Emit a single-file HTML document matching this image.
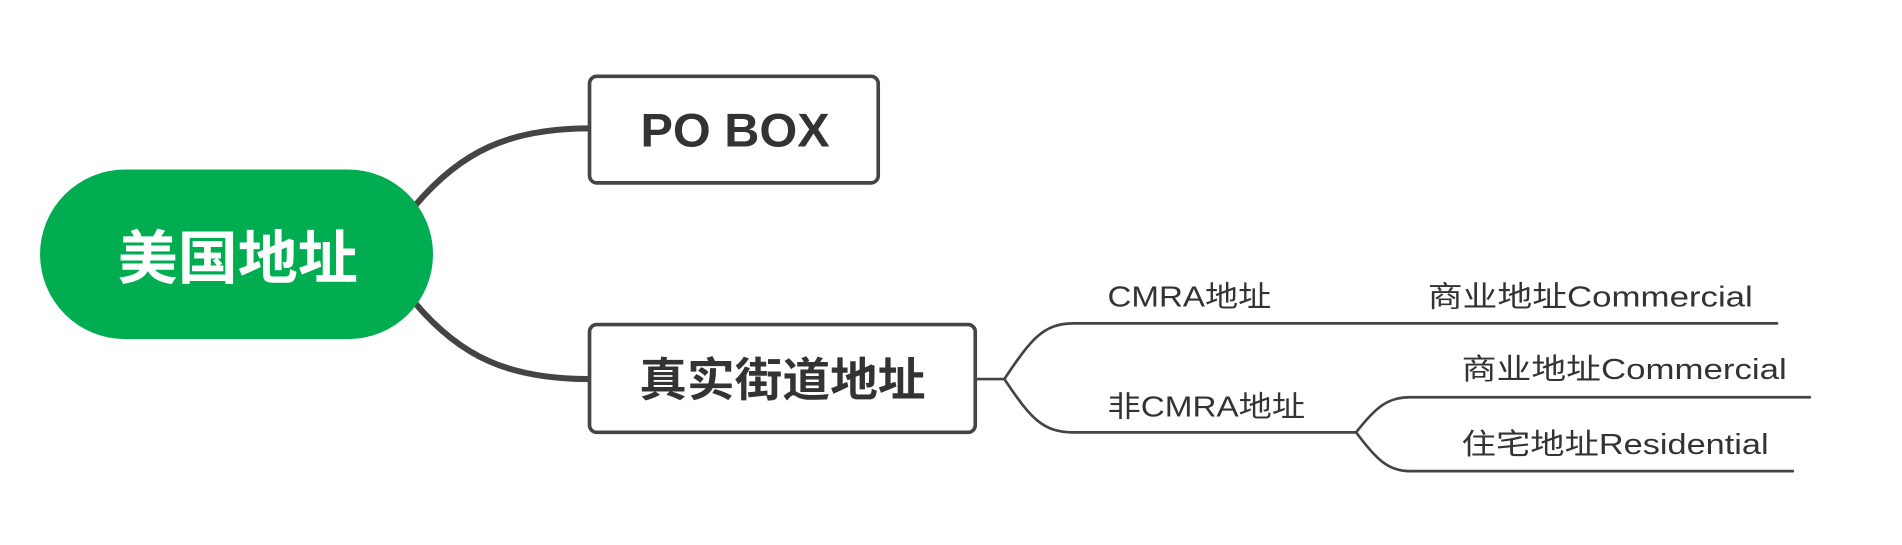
<!DOCTYPE html>
<html><head><meta charset="utf-8"><style>
html,body{margin:0;padding:0;background:#fff;width:1902px;height:545px;overflow:hidden}
svg{display:block}
text{font-family:"Liberation Sans","Noto Sans CJK SC",sans-serif}
</style></head><body>
<svg width="1902" height="545" viewBox="0 0 1568 450" preserveAspectRatio="none" xmlns="http://www.w3.org/2000/svg">
<g fill="none" stroke="#444" stroke-linecap="round">
<path d="M342 170 C380 125 420 106 486 106" stroke-width="5"/>
<path d="M342 250 C380 295 420 313 486 313" stroke-width="5"/>
<g stroke-width="2.2">
<path d="M804 313 L828 313 C850 280 860 267 885 267 L1465 267"/>
<path d="M828 313 C850 346 860 357 885 357 L1118 357"/>
<path d="M1118 357 C1135 335 1145 328 1162 328 L1492 328"/>
<path d="M1118 357 C1135 380 1145 389 1162 389 L1478 389"/>
</g>
</g>
<rect x="33" y="140" width="324" height="140" rx="70" fill="#00ae51"/>
<text x="97" y="230" font-size="48" font-weight="bold" fill="#fff" textLength="198" lengthAdjust="spacingAndGlyphs">美国地址</text>
<rect x="486" y="63" width="238" height="88" rx="6" fill="#fff" stroke="#444" stroke-width="3"/>
<text x="528" y="121" font-size="39" font-weight="bold" fill="#333" textLength="156" lengthAdjust="spacingAndGlyphs">PO BOX</text>
<rect x="486" y="268" width="318" height="89" rx="6" fill="#fff" stroke="#444" stroke-width="3"/>
<text x="527" y="327" font-size="38" font-weight="bold" fill="#333" textLength="236" lengthAdjust="spacingAndGlyphs">真实街道地址</text>
<g font-size="24" fill="#333">
<text x="913" y="253" textLength="135" lengthAdjust="spacingAndGlyphs">CMRA地址</text>
<text x="1177" y="253" textLength="268" lengthAdjust="spacingAndGlyphs">商业地址Commercial</text>
<text x="913" y="344" textLength="163" lengthAdjust="spacingAndGlyphs">非CMRA地址</text>
<text x="1205" y="313" textLength="268" lengthAdjust="spacingAndGlyphs">商业地址Commercial</text>
<text x="1205" y="375" textLength="253" lengthAdjust="spacingAndGlyphs">住宅地址Residential</text>
</g>
</svg>
</body></html>
